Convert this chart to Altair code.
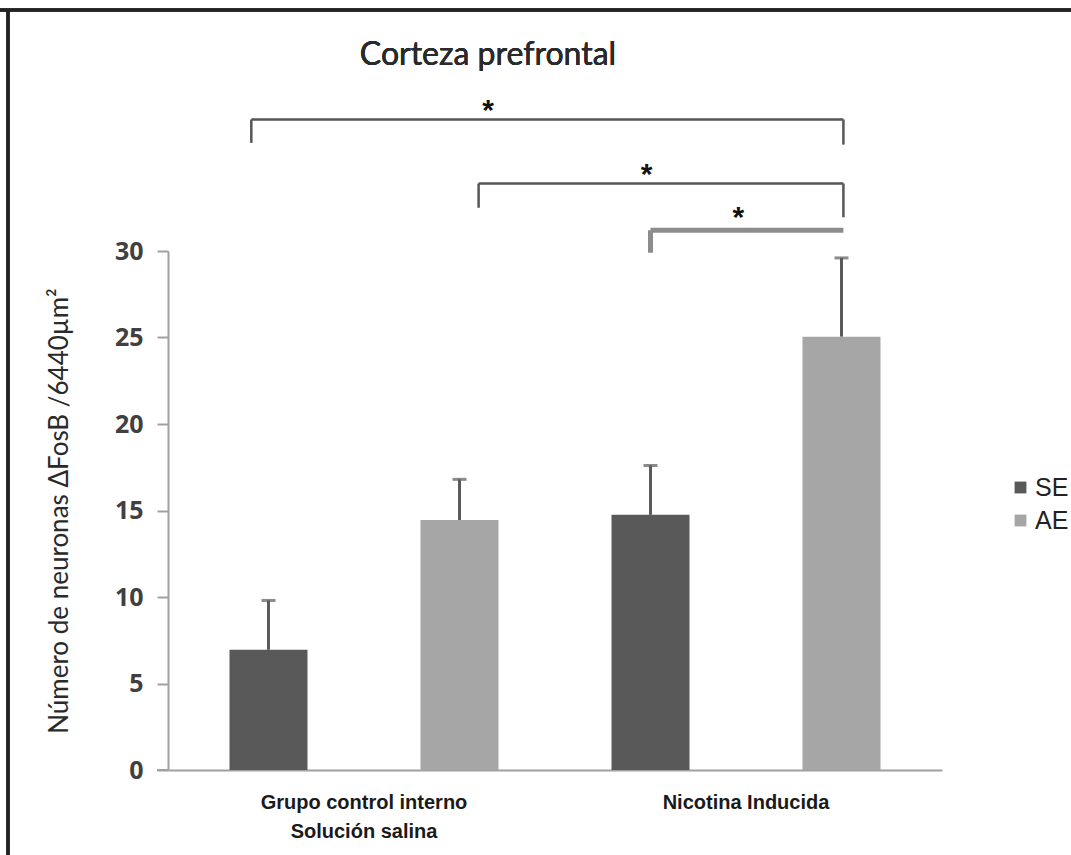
import altair as alt
import pandas as pd

# ---- data ----
bar_pos = [0.5, 1.5, 2.5, 3.5]
bar_series = ["SE", "AE", "SE", "AE"]
means = [6.95, 14.45, 14.75, 25.05]
upper = [9.8, 16.8, 17.6, 29.6]

group_labels = ["Grupo control interno\nSolución salina", "Nicotina Inducida"]
group_pos = [1.0, 3.0]

br_x1 = [0.41, 1.60, 2.50]
br_x2 = [3.51, 3.51, 3.51]
br_y = [37.6, 33.9, 31.2]
br_left_end = [36.25, 32.5, 29.9]
br_right_end = [36.15, 31.95, 31.2]
br_color = ["#555555", "#555555", "#8c8c8c"]
br_width = [2.5, 2.5, 5]

star_x = [1.65, 2.48, 2.96]
star_y = [37.7, 34.0, 31.5]

series = ["SE", "AE"]
colors = ["#595959", "#a6a6a6"]

bars = pd.DataFrame({"pos": bar_pos, "serie": bar_series, "mean": means, "upper": upper})
groups = pd.DataFrame({"pos": group_pos, "label": group_labels})
brk = pd.DataFrame({"x1": br_x1, "x2": br_x2, "y": br_y, "yl": br_left_end,
                    "yr": br_right_end, "c": br_color, "w": br_width})
stars = pd.DataFrame({"x": star_x, "y": star_y})

xs = alt.Scale(domain=[0, 4], nice=False, zero=False)
ys = alt.Scale(domain=[0, 30], nice=False)

xaxis = alt.Axis(labels=False, ticks=False, grid=False, title=None,
                 domainColor="#a0a0a0", domainWidth=2)
yaxis = alt.Axis(values=[0, 5, 10, 15, 20, 25, 30], grid=False,
                 title="Número de neuronas ΔFosB /6440µm²",
                 titleFont="Lato", titleFontSize=26, titleFontWeight="normal",
                 titleColor="#2a2a2a", titlePadding=42,
                 labelFont="Open Sans", labelFontSize=25, labelFontWeight="bold",
                 labelColor="#404040", labelPadding=14,
                 domainColor="#a0a0a0", domainWidth=2,
                 tickColor="#a0a0a0", tickSize=11, tickWidth=2)

base = alt.Chart(bars)

bar_layer = base.mark_bar(size=78).encode(
    x=alt.X("pos:Q", scale=xs, axis=xaxis),
    y=alt.Y("mean:Q", scale=ys, axis=yaxis),
    color=alt.Color("serie:N", scale=alt.Scale(domain=series, range=colors),
                    legend=alt.Legend(title=None, orient="none", legendX=840, legendY=224,
                                      symbolType="square", symbolSize=140,
                                      symbolStrokeWidth=0,
                                      labelFont="Liberation Sans", labelFontSize=25,
                                      labelColor="#222222", rowPadding=7,
                                      labelOffset=2)),
)

err = base.mark_rule(color="#5a5a5a", strokeWidth=3).encode(
    x="pos:Q", y="mean:Q", y2="upper:Q")
cap = base.mark_tick(orient="horizontal", size=14, thickness=3, color="#5a5a5a").encode(
    x="pos:Q", y="upper:Q")

glabels = alt.Chart(groups).mark_text(
    font="Liberation Sans", fontSize=20, fontWeight="bold", color="#1a1a1a",
    baseline="middle", lineBreak="\n", lineHeight=29, dy=33).encode(
    x="pos:Q", y=alt.datum(0), text="label:N")

bh = alt.Chart(brk).mark_rule().encode(
    x="x1:Q", x2="x2:Q", y="y:Q",
    color=alt.Color("c:N", scale=None), strokeWidth=alt.StrokeWidth("w:Q", scale=None))
bl = alt.Chart(brk).mark_rule().encode(
    x="x1:Q", y="y:Q", y2="yl:Q",
    color=alt.Color("c:N", scale=None), strokeWidth=alt.StrokeWidth("w:Q", scale=None))
br = alt.Chart(brk).mark_rule().encode(
    x="x2:Q", y="y:Q", y2="yr:Q",
    color=alt.Color("c:N", scale=None), strokeWidth=alt.StrokeWidth("w:Q", scale=None))

star_layer = alt.Chart(stars).mark_text(
    text="*", font="Liberation Sans", fontSize=30, fontWeight="bold",
    color="#111111", baseline="alphabetic", dy=2).encode(x="x:Q", y="y:Q")

title = alt.Chart(bars).mark_text(
    text="Corteza prefrontal", font="Lato", fontSize=32, color="#2a2a2a",
    baseline="middle", align="center").encode(x=alt.value(320), y=alt.value(-196))

border_top = alt.Chart(bars).mark_rule(color="#222222", strokeWidth=3).encode(
    x=alt.value(-168), x2=alt.value(903), y=alt.value(-241))
border_left = alt.Chart(bars).mark_rule(color="#222222", strokeWidth=3).encode(
    x=alt.value(-160), y=alt.value(-241), y2=alt.value(604))
axis_stub = alt.Chart(bars).mark_rule(color="#a0a0a0", strokeWidth=2).encode(
    x=alt.value(-11), x2=alt.value(0), y=alt.value(519))

chart = alt.layer(
    border_top, border_left, title, bar_layer, err, cap, bh, bl, br, star_layer,
    glabels, axis_stub
).properties(
    width=774, height=519,
    padding={"left": 168, "top": 251, "right": 129, "bottom": 85},
    autosize=alt.AutoSizeParams(type="none"),
).configure_view(stroke=None)

chart.save("out.html", embed_options={"renderer": "svg", "actions": False})
